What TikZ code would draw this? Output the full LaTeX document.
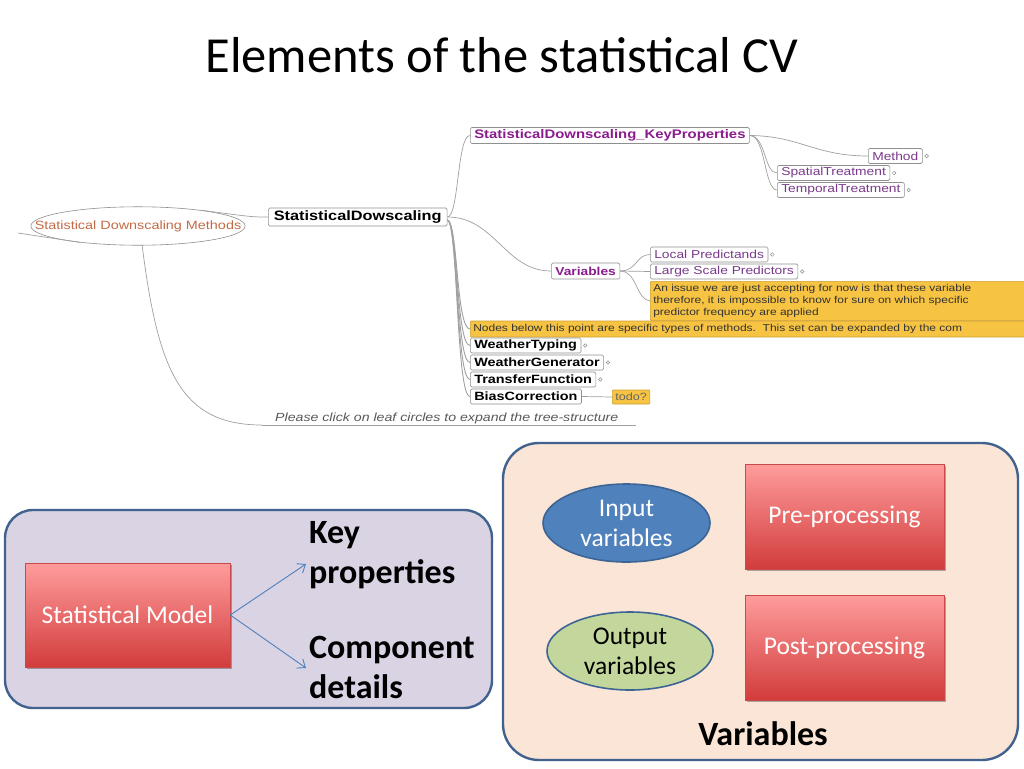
\documentclass[tikz,border=0pt]{standalone}
\usepackage{fontspec}
\setmainfont{Carlito}
\newfontfamily\mmf{Liberation Sans}[FakeStretch=1.2]
\usetikzlibrary{shapes.geometric,shadows,arrows.meta}
\definecolor{mmline}{HTML}{A0A0A0}
\definecolor{boxgray}{HTML}{8F8F8F}
\definecolor{mmpurple}{HTML}{8A1C8E}
\definecolor{mmpurple2}{HTML}{7A3A8C}
\definecolor{noteyellow}{HTML}{F6C343}
\definecolor{noteborder}{HTML}{CFA030}
\definecolor{ellitext}{HTML}{C46A45}
\definecolor{lav}{HTML}{DAD3E4}
\definecolor{peach}{HTML}{FBE5D6}
\definecolor{panelborder}{HTML}{41628F}
\definecolor{redtop}{HTML}{FF9C9C}
\definecolor{redmid}{HTML}{EE7474}
\definecolor{redbot}{HTML}{D23C3C}
\definecolor{redborder}{HTML}{C84A4A}
\definecolor{inblue}{HTML}{4F81BD}
\definecolor{outgreen}{HTML}{C3D69B}
\definecolor{ellborder}{HTML}{3C6595}
\definecolor{arrblue}{HTML}{4F81BD}
\begin{document}
\begin{tikzpicture}[x=1pt,y=-1pt,
  mml/.style={draw=mmline,line width=0.7pt},
  mmbox/.style={draw=boxgray,fill=white,rounded corners=1.5pt,inner ysep=1.5pt,inner xsep=4pt,
    line width=0.6pt,anchor=west,minimum height=15pt,font=\mmf\fontsize{11.5}{13}\selectfont},
  mmboldbox/.style={mmbox,font=\mmf\bfseries\fontsize{12}{14}\selectfont},
  leafc/.style={draw=boxgray,line width=0.5pt,fill=white},
  note/.style={draw=noteborder,fill=noteyellow,line width=0.6pt,rounded corners=1pt,
    font=\mmf\fontsize{10}{12}\selectfont,text=black!80,align=left,inner sep=3pt},
  panel/.style={rectangle,draw=panelborder,line width=2.4pt},
  redbox/.style={rectangle,draw=redborder,line width=0.5pt,top color=redtop,middle color=redmid,
    bottom color=redbot,text=white,font=\fontsize{25.5}{30}\selectfont,
    drop shadow={shadow xshift=1.5pt,shadow yshift=-2pt,opacity=0.3,fill=black}},
  varell/.style={ellipse,draw=ellborder,line width=1.6pt,align=center,
    font=\fontsize{25.5}{30}\selectfont,inner sep=0pt},
  arr/.style={draw=arrblue,line width=0.9pt,-{Straight Barb[length=7pt,width=11pt]}},
  bigbold/.style={font=\fontsize{34}{40}\selectfont\bfseries,align=left,inner sep=0pt}
]
\useasboundingbox (0,0) rectangle (1024,768);
\fill[white] (0,0) rectangle (1024,768);

% title
\node[anchor=base,font=\fontsize{50.5}{60}\selectfont,inner sep=0pt] (title) at (502,72) {Elements of the statistical CV};

\begin{scope}
\clip (0,0) rectangle (1024,768);
% ---------- mind map nodes ----------
\node[ellipse,draw=boxgray,fill=white,line width=0.6pt,inner xsep=-27.5pt,inner ysep=8pt,minimum height=28pt,
  text=ellitext,font=\mmf\fontsize{12}{13}\selectfont] (sdm) at (138,226) {Statistical Downscaling Methods};
\node[mmbox,font=\mmf\bfseries\fontsize{13.6}{16}\selectfont,minimum height=18pt,inner xsep=5.5pt] (sd) at (268,217) {StatisticalDowscaling};
\node[mmbox,font=\mmf\bfseries\fontsize{12.4}{14}\selectfont,text=mmpurple,minimum height=16pt] (kp) at (470,135.5) {StatisticalDownscaling\_KeyProperties};
\node[mmbox,text=mmpurple2] (method) at (868,156) {Method};
\node[mmbox,text=mmpurple2] (spatial) at (777,173) {SpatialTreatment};
\node[mmbox,text=mmpurple2] (temporal) at (777,190) {TemporalTreatment};
\node[mmbox,font=\mmf\bfseries\fontsize{11.5}{13}\selectfont,text=mmpurple,minimum height=16pt] (vars) at (551,271) {Variables};
\node[mmbox,text=mmpurple2] (lp) at (650,254.5) {Local Predictands};
\node[mmbox,text=mmpurple2] (lsp) at (650,271.5) {Large Scale Predictors};
\node[note,anchor=north west,text width=420pt] (note1) at (650,281) {An issue we are just accepting for now is that these variable\\therefore, it is impossible to know for sure on which specific\\predictor frequency are applied};
\node[note,anchor=west,text width=600pt,minimum height=16pt,inner ysep=2pt] (note2) at (470,329) {Nodes below this point are specific types of methods.\ \ This set can be expanded by the com};
\node[mmboldbox] (wt) at (470,345.5) {WeatherTyping};
\node[mmboldbox] (wg) at (470,362.5) {WeatherGenerator};
\node[mmboldbox] (tf) at (470,379.5) {TransferFunction};
\node[mmboldbox] (bc) at (470,396.5) {BiasCorrection};
\node[note,anchor=west,minimum height=14pt,inner ysep=1pt,font=\mmf\fontsize{10.5}{12}\selectfont,text=black!60] (todo) at (612,397) {todo?};
\node[anchor=base west,inner sep=0pt,font=\mmf\itshape\fontsize{11.8}{14}\selectfont,text=black!65] (please) at (275,421) {Please click on leaf circles to expand the tree-structure};
\coordinate (ul1) at (262,425);
\coordinate (ul2) at (636,425);
\coordinate (c0) at (18,233);

% leaf circles
\foreach \n in {method,spatial,temporal,lp,lsp,wt,wg,tf}{
  \draw[leafc] ([xshift=4pt]\n.east) circle (1.8pt);
}

% ---------- mind map connectors ----------
\draw[mml] (c0) -- (sdm.196);
\draw[mml] (sdm.14) .. controls (252,217) .. (sd.west);
\draw[mml] (sdm.282) .. controls (158,370) and (180,425) .. (ul1);
\draw[mml] (ul1) -- (ul2);
\draw[mml] (sd.east) .. controls (459,217) and (457,135.5) .. (kp.west);
\draw[mml] (sd.east) .. controls (495,217) and (505,271) .. (vars.west);
\foreach \n in {note2,wt,wg,tf,bc}{
  \draw[mml,line width=0.9pt] ([yshift=-3pt]sd.east) .. controls (458,222) and ([xshift=-14pt]\n.west) .. (\n.west);
}
\draw[mml] (kp.east) .. controls (800,136) and (815,156) .. (method.west);
\draw[mml] (kp.east) .. controls (766,136) and (764,173) .. (spatial.west);
\draw[mml] (kp.east) .. controls (766,136) and (764,190) .. (temporal.west);
\draw[mml] (vars.east) .. controls (637,271) and (636,254.5) .. (lp.west);
\draw[mml] (vars.east) -- (lsp.west);
\draw[mml] (vars.east) .. controls (637,271) and (636,299.5) .. (note1.west);
\draw[mml] (bc.east) -- (todo.west);
\end{scope}

% ---------- lower panels ----------
\node[panel,fill=lav,rounded corners=28pt,minimum width=487pt,minimum height=198pt] (p1) at (248.5,609) {};
\node[panel,fill=peach,rounded corners=36pt,minimum width=515pt,minimum height=317pt] (p2) at (760.5,601.5) {};

\node[redbox,minimum width=205pt,minimum height=104pt] (model) at (127.5,615) {Statistical Model};
\coordinate (a1) at (306,564);
\coordinate (a2) at (306,668);
\draw[arr] (model.east) -- (a1);
\draw[arr] (model.east) -- (a2);
\node[bigbold,anchor=north west] (keyp) at (309,521) {Key\\properties};
\node[bigbold,anchor=north west] (comp) at (309,636) {Component\\details};

\node[varell,fill=inblue,text=white,minimum width=167pt,minimum height=78pt] (inv) at (626.5,523) {Input\\variables};
\node[varell,fill=outgreen,text=black,minimum width=166pt,minimum height=78pt] (outv) at (630,651) {Output\\variables};
\node[redbox,minimum width=199pt,minimum height=105pt] (pre) at (844.5,516.5) {Pre-processing};
\node[redbox,minimum width=199pt,minimum height=105pt] (post) at (844.5,647.5) {Post-processing};
\node[anchor=base,inner sep=0pt,font=\fontsize{34}{40}\selectfont\bfseries] (varlabel) at (763,745) {Variables};
\end{tikzpicture}
\end{document}
